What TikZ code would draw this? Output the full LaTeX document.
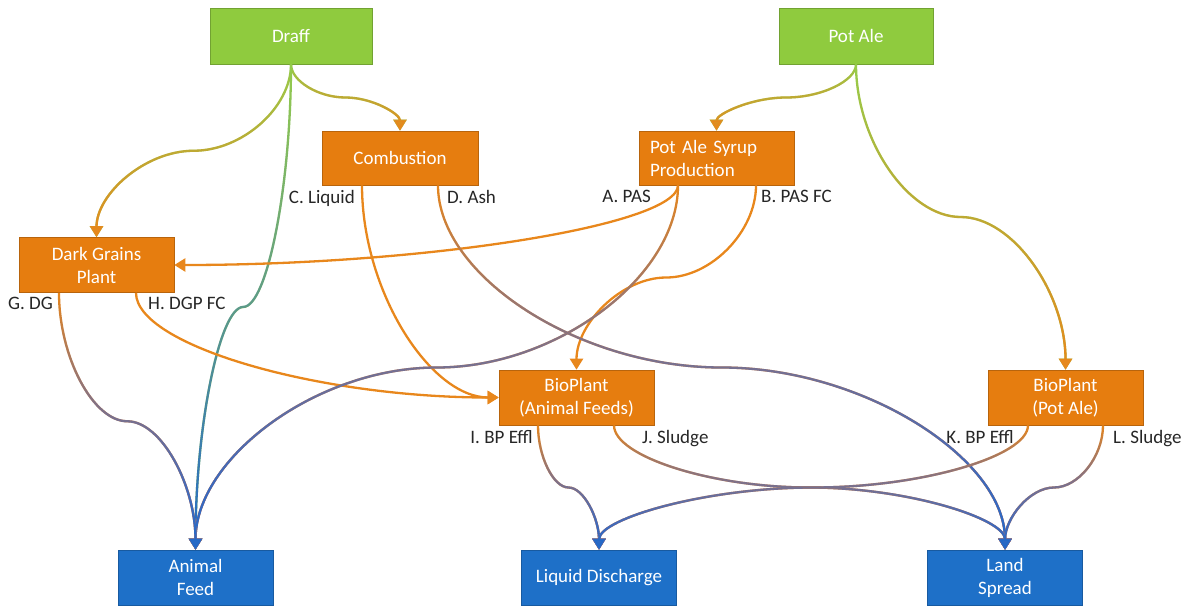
\documentclass[tikz,border=0pt]{standalone}
\usepackage{fontspec}
\setmainfont{Carlito}
\usetikzlibrary{calc,arrows.meta,fadings}
\definecolor{greenbox}{RGB}{143,203,62}
\definecolor{orangebox}{RGB}{230,125,15}
\definecolor{bluebox}{RGB}{30,112,200}
\definecolor{greenline}{RGB}{150,204,75}
\definecolor{orangeline}{RGB}{232,135,28}
\definecolor{blueline}{RGB}{35,105,200}
\definecolor{mauveline}{RGB}{172,105,150}
\definecolor{labelgray}{RGB}{38,38,38}
\tikzfading[name=midin, top color=transparent!100, middle color=transparent!0, bottom color=transparent!0]
\tikzfading[name=lowhalf, top color=transparent!100, middle color=transparent!100, bottom color=transparent!0]
\newcommand\gradconn[3]{\draw[conn,#1] #3; \draw[conn,#2,path fading=north] #3;}
\newcommand\gradconnmid[4]{\draw[conn,#1] #4; \draw[conn,#2,path fading=midin] #4; \draw[conn,#3,path fading=lowhalf] #4;}
\begin{document}
\begin{tikzpicture}[x=1pt,y=-1pt,
  box/.style={rectangle, draw=#1!80!black, line width=0.6pt, fill=#1, text=white,
    minimum width=155pt, minimum height=55pt, inner sep=2pt, align=center,
    font=\fontsize{19}{23}\selectfont},
  lab/.style={text=labelgray, inner sep=0pt, font=\fontsize{19}{23}\selectfont},
  conn/.style={line width=2.3pt, -{Triangle[width=13pt,length=11pt]}},
  sc/.style={to path={let \p1=(\tikztostart), \p2=(\tikztotarget) in
    .. controls (\x1,{0.75*(\y1)+0.25*(\y2)}) and ({0.75*(\x1)+0.25*(\x2)},{0.5*(\y1)+0.5*(\y2)}) ..
    ({0.5*(\x1)+0.5*(\x2)},{0.5*(\y1)+0.5*(\y2)})
    .. controls ({0.25*(\x1)+0.75*(\x2)},{0.5*(\y1)+0.5*(\y2)}) and (\x2,{0.25*(\y1)+0.75*(\y2)}) .. (\x2,\y2)}},
  lc/.style={to path={let \p1=(\tikztostart), \p2=(\tikztotarget) in
    .. controls (\x1,{0.5*(\y1)+0.5*(\y2)}) and ({0.5*(\x1)+0.5*(\x2)},\y2) .. (\x2,\y2)}}
]
\useasboundingbox (0,0) rectangle (1190,605);

% boxes
\node[box=greenbox, minimum width=162pt, minimum height=56pt] (draff) at (291,36) {Draff};
\node[box=greenbox, minimum width=154pt, minimum height=56pt] (potale) at (856,36) {Pot Ale};
\node[box=orangebox, minimum width=156pt, minimum height=54pt] (comb) at (400,158) {Combustion};
\node[box=orangebox, minimum height=54pt, text width=133pt, inner xsep=11pt, align=left] (pasp) at (716.5,158) {Pot Ale Syrup\\Production};
\node[box=orangebox] (dg) at (96.5,265) {Dark Grains\\Plant};
\node[box=orangebox] (bpaf) at (576.5,397.5) {BioPlant\\(Animal Feeds)};
\node[box=orangebox] (bppa) at (1065.5,397.5) {BioPlant\\(Pot Ale)};
\node[box=bluebox] (af) at (195.5,577.5) {Animal\\Feed};
\node[box=bluebox] (ld) at (599,577.5) {Liquid Discharge};
\node[box=bluebox] (ls) at (1005,577.5) {Land\\Spread};

% labels
\node[lab, anchor=base east] (lC) at (355,203) {C. Liquid};
\node[lab, anchor=base west] (lD) at (447,203) {D. Ash};
\node[lab, anchor=base east] (lA) at (651,202) {A. PAS};
\node[lab, anchor=base west] (lB) at (761,202) {B. PAS FC};
\node[lab, anchor=base east] (lG) at (53,309) {G. DG};
\node[lab, anchor=base west] (lH) at (148,309) {H. DGP FC};
\node[lab, anchor=base east] (lI) at (533,443) {I. BP Effl};
\node[lab, anchor=base west] (lJ) at (642,443) {J. Sludge};
\node[lab, anchor=base east] (lK) at (1014,443) {K. BP Effl};
\node[lab, anchor=base west] (lL) at (1113,443) {L. Sludge};

% green -> orange / blue
\gradconn{greenline}{orangeline}{(draff.south) to[sc] (comb.north)}
\gradconn{greenline}{orangeline}{(draff.south) to[sc] (dg.north)}
\gradconn{greenline}{blueline}{(draff.south) to[sc] (af.north)}
\gradconn{greenline}{orangeline}{(potale.south) to[sc] (pasp.north)}
\gradconn{greenline}{orangeline}{(potale.south) to[sc] (bppa.north)}

% orange -> orange
\draw[conn, orangeline] ([xshift=-38.5pt]pasp.south) to[lc] (dg.east);
\draw[conn, orangeline] ([xshift=39.5pt]pasp.south) to[sc] (bpaf.north);
\draw[conn, orangeline] ([xshift=-38pt]comb.south) to[lc] (bpaf.west);
\draw[conn, orangeline] ([xshift=39.5pt]dg.south) to[lc] (bpaf.west);

% orange -> blue
\gradconnmid{orangeline}{mauveline}{blueline}{([xshift=-38.5pt]pasp.south) to[sc] (af.north)}
\gradconnmid{orangeline}{mauveline}{blueline}{([xshift=38pt]comb.south) to[sc] (ls.north)}
\gradconnmid{orangeline}{mauveline}{blueline}{([xshift=-37.5pt]dg.south) to[sc] (af.north)}
\gradconnmid{orangeline}{mauveline}{blueline}{([xshift=-38.5pt]bpaf.south) to[sc] (ld.north)}
\gradconnmid{orangeline}{mauveline}{blueline}{([xshift=37.5pt]bpaf.south) to[sc] (ls.north)}
\gradconnmid{orangeline}{mauveline}{blueline}{([xshift=-37.5pt]bppa.south) to[sc] (ld.north)}
\gradconnmid{orangeline}{mauveline}{blueline}{([xshift=37.5pt]bppa.south) to[sc] (ls.north)}
\end{tikzpicture}
\end{document}
